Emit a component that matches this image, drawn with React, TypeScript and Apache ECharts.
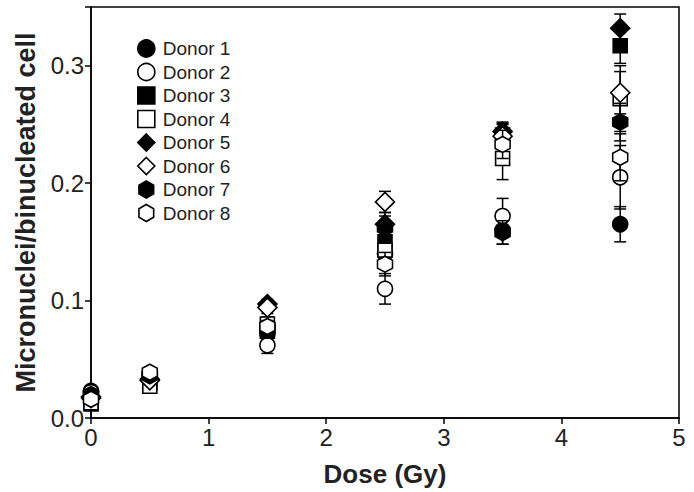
import React, { useEffect, useRef } from "react";
import * as echarts from "echarts";

const doses = [0, 0.5, 1.5, 2.5, 3.5, 4.5];
const donorNames = ["Donor 1", "Donor 2", "Donor 3", "Donor 4", "Donor 5", "Donor 6", "Donor 7", "Donor 8"];

const donor1 = [0.023, 0.035, 0.072, 0.140, 0.160, 0.165];
const donor2 = [0.022, 0.038, 0.062, 0.110, 0.172, 0.205];
const donor3 = [0.012, 0.030, 0.074, 0.150, 0.241, 0.317];
const donor4 = [0.013, 0.027, 0.080, 0.143, 0.221, 0.272];
const donor5 = [0.018, 0.033, 0.097, 0.165, 0.244, 0.332];
const donor6 = [0.017, 0.032, 0.094, 0.184, 0.240, 0.277];
const donor7 = [0.020, 0.036, 0.076, 0.162, 0.158, 0.252];
const donor8 = [0.016, 0.039, 0.078, 0.131, 0.233, 0.222];

const err1 = [0.003, 0.003, 0.006, 0.010, 0.012, 0.015];
const err2 = [0.003, 0.003, 0.007, 0.013, 0.015, 0.027];
const err3 = [0.002, 0.003, 0.006, 0.010, 0.010, 0.015];
const err4 = [0.002, 0.003, 0.006, 0.012, 0.018, 0.028];
const err5 = [0.003, 0.003, 0.004, 0.010, 0.008, 0.012];
const err6 = [0.003, 0.003, 0.005, 0.009, 0.010, 0.018];
const err7 = [0.003, 0.003, 0.005, 0.010, 0.010, 0.016];
const err8 = [0.003, 0.003, 0.005, 0.010, 0.012, 0.020];

const yTicks = [0, 0.1, 0.2, 0.3];
const xTicks = [0, 1, 2, 3, 4, 5];

const HEX = "path://M0,-1 L0.866,-0.5 L0.866,0.5 L0,1 L-0.866,0.5 L-0.866,-0.5 Z";

export default function App() {
  const ref = useRef<HTMLDivElement>(null);
  useEffect(() => {
    if (!ref.current) return;
    const chart = echarts.init(ref.current, null, { renderer: "svg" });
    const values = [donor1, donor2, donor3, donor4, donor5, donor6, donor7, donor8];
    const errs = [err1, err2, err3, err4, err5, err6, err7, err8];
    const symbols = ["circle", "circle", "rect", "rect", "diamond", "diamond", HEX, HEX];
    const sizes: any[] = [15, 15, 14, 14, [19, 19], [19, 19], [15, 16], [15, 16]];
    const filled = [true, false, true, false, true, false, true, false];

    const series: any[] = [];
    values.forEach((vals, i) => {
      series.push({
        type: "custom",
        name: donorNames[i] + " err",
        z: 2 + i * 2,
        silent: true,
        data: doses.map((d, j) => [d, vals[j], errs[i][j]]),
        renderItem: (params: any, api: any) => {
          const x = api.value(0);
          const y = api.value(1);
          const e = api.value(2);
          const top = api.coord([x, y + e]);
          const bot = api.coord([x, y - e]);
          const hw = 6;
          const st = { stroke: "#000", lineWidth: 1.5 };
          return {
            type: "group",
            children: [
              { type: "line", shape: { x1: top[0], y1: top[1], x2: bot[0], y2: bot[1] }, style: st },
              { type: "line", shape: { x1: top[0] - hw, y1: top[1], x2: top[0] + hw, y2: top[1] }, style: st },
              { type: "line", shape: { x1: bot[0] - hw, y1: bot[1], x2: bot[0] + hw, y2: bot[1] }, style: st },
            ],
          };
        },
      });
      series.push({
        type: "scatter",
        name: donorNames[i],
        z: 3 + i * 2,
        symbol: symbols[i],
        symbolSize: sizes[i],
        data: doses.map((d, j) => [d, vals[j]]),
        itemStyle: {
          color: filled[i] ? "#000" : "#fff",
          borderColor: "#000",
          borderWidth: 1.6,
          opacity: 1,
        },
      });
    });

    chart.setOption({
      animation: false,
      textStyle: { fontFamily: "Liberation Sans, Arial, sans-serif" },
      grid: {
        left: 91,
        right: 15,
        top: 7,
        bottom: 71,
        show: true,
        borderColor: "#000",
        borderWidth: 1.5,
      },
      legend: {
        orient: "vertical",
        left: 132,
        top: 34,
        itemGap: 4.5,
        itemWidth: 17,
        itemHeight: 17,
        data: donorNames.map((n, i) => ({
          name: n,
          icon: symbols[i],
          itemStyle: { color: filled[i] ? "#000" : "#fff", borderColor: "#000", borderWidth: 1.6 },
        })),
        textStyle: {
          fontSize: 19,
          color: "#222",
          padding: [0, 0, 0, 3],
          fontFamily: "Liberation Sans, Arial, sans-serif",
        },
      },
      xAxis: {
        type: "value",
        min: xTicks[0],
        max: xTicks[xTicks.length - 1],
        interval: 1,
        name: "Dose (Gy)",
        nameLocation: "middle",
        nameGap: 43,
        nameTextStyle: { fontSize: 26, fontWeight: "bold", color: "#222" },
        axisLine: { lineStyle: { color: "#000", width: 1.5 } },
        axisTick: { inside: false, length: 6, lineStyle: { color: "#000", width: 1.5 } },
        axisLabel: { fontSize: 24, color: "#222", margin: 7 },
        splitLine: { show: false },
      },
      yAxis: {
        type: "value",
        min: 0,
        max: 0.35,
        interval: 0.1,
        name: "Micronuclei/binucleated cell",
        nameLocation: "middle",
        nameGap: 45,
        nameTextStyle: { fontSize: 27, fontWeight: "bold", color: "#222" },
        axisLine: { lineStyle: { color: "#000", width: 1.5 } },
        axisTick: { inside: false, length: 6, lineStyle: { color: "#000", width: 1.5 } },
        axisLabel: {
          fontSize: 24,
          color: "#222",
          margin: 7,
          formatter: (v: number) => (yTicks.some((t) => Math.abs(t - v) < 1e-9) ? v.toFixed(1) : ""),
        },
        splitLine: { show: false },
      },
      series,
    });
    return () => chart.dispose();
  }, []);
  return (
    <div
      ref={ref}
      style={{ position: "absolute", left: 0, top: 0, width: 694, height: 492 }}
    />
  );
}
